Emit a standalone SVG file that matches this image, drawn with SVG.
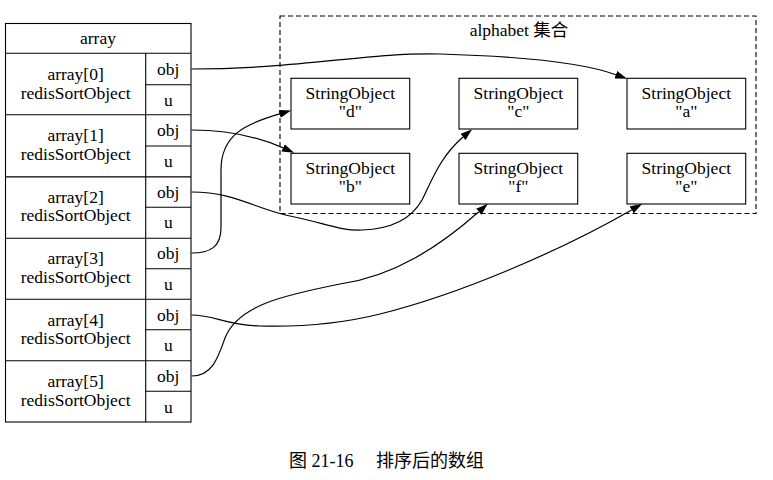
<svg xmlns="http://www.w3.org/2000/svg" width="773" height="480" viewBox="0 0 773 480">
<style>
  text { font-family: "Liberation Serif", serif; font-size: 17.5px; fill: #000; text-anchor: middle; }
  .cjk { font-family: "Liberation Serif", "Noto Sans CJK SC", serif; }
  .box { fill: #fff; stroke: #000; stroke-width: 1.1; }
  .ln { stroke: #000; stroke-width: 1.1; fill: none; }
  .edge { stroke: #000; stroke-width: 1.2; fill: none; marker-end: url(#arr); }
  .cluster { fill: none; stroke: #000; stroke-width: 1.1; stroke-dasharray: 5,3; }
  .cap { font-size: 18px; text-anchor: start; }
</style>
<defs>
  <marker id="arr" viewBox="0 0 12 8" refX="0" refY="4" markerWidth="12" markerHeight="8" markerUnits="userSpaceOnUse" orient="auto">
    <path d="M0,0 L12,4 L0,8 z" fill="#000"/>
  </marker>
</defs>
<rect width="773" height="480" fill="#fff"/>

<g id="alphabet">
  <rect class="cluster" x="280" y="16" width="476" height="197.5"/>
  <text class="cjk" x="519" y="36">alphabet 集合</text>
</g>

<g id="array">
  <rect class="box" x="5.5" y="23.5" width="185.5" height="398.5"/>
  <line class="ln" x1="5.5" y1="53.3" x2="191" y2="53.3"/>
  <text x="98" y="44">array</text>
  <line class="ln" x1="145.7" y1="53.3" x2="145.7" y2="422"/>
  <line class="ln" x1="5.5" y1="114.7" x2="191" y2="114.7"/>
  <line class="ln" x1="5.5" y1="176.9" x2="191" y2="176.9"/>
  <line class="ln" x1="5.5" y1="238.3" x2="191" y2="238.3"/>
  <line class="ln" x1="5.5" y1="299.3" x2="191" y2="299.3"/>
  <line class="ln" x1="5.5" y1="360.7" x2="191" y2="360.7"/>
  <line class="ln" x1="145.7" y1="84.7" x2="191" y2="84.7"/>
  <line class="ln" x1="145.7" y1="146" x2="191" y2="146"/>
  <line class="ln" x1="145.7" y1="207.3" x2="191" y2="207.3"/>
  <line class="ln" x1="145.7" y1="268.7" x2="191" y2="268.7"/>
  <line class="ln" x1="145.7" y1="329.7" x2="191" y2="329.7"/>
  <line class="ln" x1="145.7" y1="391.3" x2="191" y2="391.3"/>
  <text x="75.6" y="80">array[0]</text><text x="75.6" y="98.5">redisSortObject</text>
  <text x="168.3" y="75">obj</text><text x="168.3" y="105.5">u</text>
  <text x="75.6" y="141.4">array[1]</text><text x="75.6" y="159.9">redisSortObject</text>
  <text x="168.3" y="136.4">obj</text><text x="168.3" y="166.9">u</text>
  <text x="75.6" y="202.8">array[2]</text><text x="75.6" y="221.3">redisSortObject</text>
  <text x="168.3" y="197.8">obj</text><text x="168.3" y="228.3">u</text>
  <text x="75.6" y="264.2">array[3]</text><text x="75.6" y="282.7">redisSortObject</text>
  <text x="168.3" y="259.2">obj</text><text x="168.3" y="289.7">u</text>
  <text x="75.6" y="325.6">array[4]</text><text x="75.6" y="344.1">redisSortObject</text>
  <text x="168.3" y="320.6">obj</text><text x="168.3" y="351.1">u</text>
  <text x="75.6" y="387">array[5]</text><text x="75.6" y="405.5">redisSortObject</text>
  <text x="168.3" y="382">obj</text><text x="168.3" y="412.5">u</text>
</g>

<g id="d"><rect class="box" x="291" y="78.3" width="118.7" height="50.7"/><text x="350.3" y="99.3">StringObject</text><text x="350.3" y="116.7">"d"</text></g>
<g id="c"><rect class="box" x="459" y="78.3" width="118.7" height="50.7"/><text x="518.3" y="99.3">StringObject</text><text x="518.3" y="116.7">"c"</text></g>
<g id="a"><rect class="box" x="627" y="78.3" width="118.7" height="50.7"/><text x="686.3" y="99.3">StringObject</text><text x="686.3" y="116.7">"a"</text></g>
<g id="b"><rect class="box" x="291" y="153.3" width="118.7" height="50.7"/><text x="350.3" y="174.3">StringObject</text><text x="350.3" y="191.7">"b"</text></g>
<g id="f"><rect class="box" x="459" y="153.3" width="118.7" height="50.7"/><text x="518.3" y="174.3">StringObject</text><text x="518.3" y="191.7">"f"</text></g>
<g id="e"><rect class="box" x="627" y="153.3" width="118.7" height="50.7"/><text x="686.3" y="174.3">StringObject</text><text x="686.3" y="191.7">"e"</text></g>

<g id="edges">
  <path class="edge" d="M191.5,69 C300,69 370,52 440,54 C510,56 578,61 615.8,74.7"/>
  <path class="edge" d="M191.5,130 C228,130 256,136 283.1,147.9"/>
  <path class="edge" d="M191.5,192 C235,192 255,209 290,216 C325,223 340,231 362,230 C392,229 412,218 422,200 C432,180 440,157 463,137"/>
  <path class="edge" d="M191.5,253 C210,253 221,247 221,228 L221,170 C221,135 245,124 279.6,113.9"/>
  <path class="edge" d="M191.5,315 C215,315 225,325 260,326 C300,327 340,324 380,314 C460,294 558,252 631.6,209.9"/>
  <path class="edge" d="M191.5,376 C212,376 218,358 225,338 C238,305 285,295 340,284 C395,276 440,246 478.8,211.7"/>
</g>

<g id="caption">
  <text class="cap cjk" x="289" y="467">图 21-16</text>
  <text class="cap cjk" x="376" y="467">排序后的数组</text>
</g>
</svg>
